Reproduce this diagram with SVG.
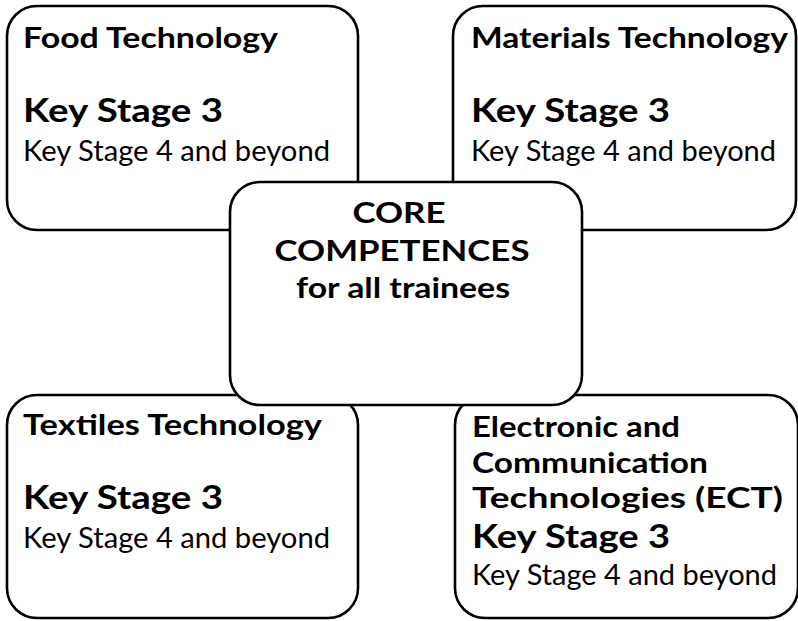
<svg xmlns="http://www.w3.org/2000/svg" width="798" height="621" viewBox="0 0 798 621">
<style>
.box{fill:#fff;stroke:#000;stroke-width:2.6}
text{font-family:Lato,"Open Sans","Liberation Sans",sans-serif;fill:#000}
.h{font-size:28px;font-weight:bold}
.k{font-size:33px;font-weight:bold}
.n{font-size:28px}
.c{font-size:28px;font-weight:bold;text-anchor:middle}
</style>
<rect width="798" height="621" fill="#fff"/>
<g id="food">
<rect class="box" x="7" y="6" width="351" height="224" rx="30"/>
<text class="h" x="23" y="48" textLength="255" lengthAdjust="spacingAndGlyphs">Food Technology</text>
<text class="k" x="23" y="122" textLength="200" lengthAdjust="spacingAndGlyphs">Key Stage 3</text>
<text class="n" x="23" y="161" textLength="307" lengthAdjust="spacingAndGlyphs">Key Stage 4 and beyond</text>
</g>
<g id="materials">
<rect class="box" x="453" y="6" width="343" height="224" rx="30"/>
<text class="h" x="471" y="48" textLength="317" lengthAdjust="spacingAndGlyphs">Materials Technology</text>
<text class="k" x="471" y="122" textLength="199" lengthAdjust="spacingAndGlyphs">Key Stage 3</text>
<text class="n" x="471" y="161" textLength="305" lengthAdjust="spacingAndGlyphs">Key Stage 4 and beyond</text>
</g>
<g id="textiles">
<rect class="box" x="7" y="395" width="351" height="223" rx="30"/>
<text class="h" x="23" y="435" textLength="299" lengthAdjust="spacingAndGlyphs">Textiles Technology</text>
<text class="k" x="23" y="509" textLength="200" lengthAdjust="spacingAndGlyphs">Key Stage 3</text>
<text class="n" x="23" y="548" textLength="307" lengthAdjust="spacingAndGlyphs">Key Stage 4 and beyond</text>
</g>
<g id="ect">
<rect class="box" x="455" y="395" width="343" height="223" rx="30"/>
<text class="h" x="472" y="437" textLength="208" lengthAdjust="spacingAndGlyphs">Electronic and</text>
<text class="h" x="472" y="473" textLength="236" lengthAdjust="spacingAndGlyphs">Communication</text>
<text class="h" x="472" y="508" textLength="311" lengthAdjust="spacingAndGlyphs">Technologies (ECT)</text>
<text class="k" x="472" y="548" textLength="198" lengthAdjust="spacingAndGlyphs">Key Stage 3</text>
<text class="n" x="472" y="585" textLength="305" lengthAdjust="spacingAndGlyphs">Key Stage 4 and beyond</text>
</g>
<g id="core">
<rect class="box" x="230" y="182" width="352" height="223" rx="30"/>
<text class="c" x="399" y="223" textLength="93" lengthAdjust="spacingAndGlyphs">CORE</text>
<text class="c" x="402" y="261" textLength="255" lengthAdjust="spacingAndGlyphs">COMPETENCES</text>
<text class="c" x="403" y="298" textLength="214" lengthAdjust="spacingAndGlyphs">for all trainees</text>
</g>
<g id="connectors"></g>
</svg>
